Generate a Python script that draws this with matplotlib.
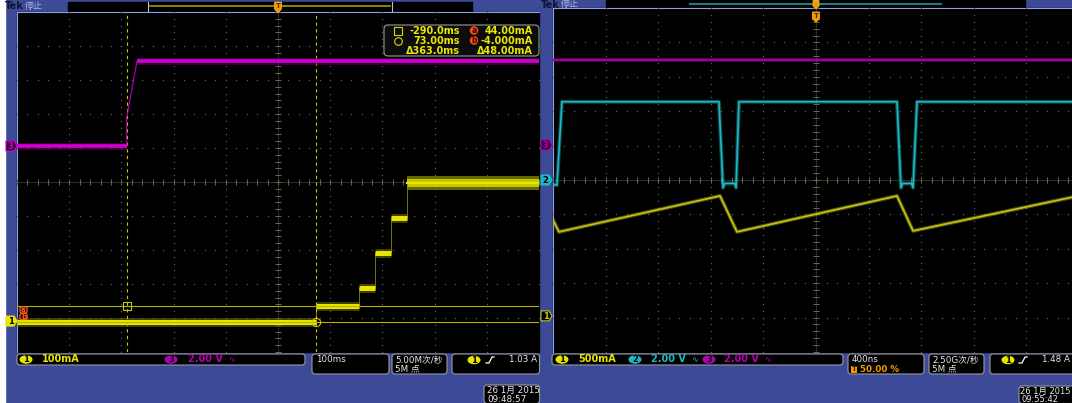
import numpy as np
import matplotlib.pyplot as plt
from matplotlib.patches import Rectangle, FancyBboxPatch, Polygon, Ellipse

plt.rcParams['font.family'] = ['DejaVu Sans', 'Noto Sans CJK SC']

W, H = 1072, 403

# left capture: 100 ms/div, CH1 100 mA/div, CH3 2 V/div
l_ms_span = (-500, 500)
l_ch1_edges_ms = [-500, 73, 155, 186, 216, 247, 500]
l_ch1_levels_ma = [-4, 44, 97, 200, 303, 406]
l_ch1_ripple_ma = 20
l_ch3_ms = [-500, -290, -290, -270, 500]
l_ch3_v = [0.0, 0.0, 1.65, 5.0, 5.0]
l_cursor_ms = [-290.0, 73.0]
l_cursor_ma = [44.0, -4.0]

# right capture: 400 ns/div, CH1 500 mA/div, CH2 / CH3 2 V/div
r_ns_span = (-2000, 2000)
r_ch1_ns = [-2000, -1955, -730, -601, 616, 738, 2000]
r_ch1_ma = [1395, 1221, 1744, 1221, 1744, 1235, 1746]
r_ch2_ns = [-2000, -1970, -1932, -738, -707, -695, -620, -608, -586,
            616, 646, 658, 726, 738, 768, 2000]
r_ch2_v = [-0.25, -0.3, 4.55, 4.55, -0.45, -0.2, -0.2, -0.45, 4.55,
           4.55, -0.45, -0.2, -0.2, -0.45, 4.55, 4.55]
r_ch3_ns = [-2000, 2000]
r_ch3_v = [4.95, 4.95]

BLUE = '#3c4a98'
YEL = '#e6e600'
YEL2 = '#c8c414'
CYAN = '#1cb8c4'
MAG = '#d000d0'
MAG2 = '#b400b4'
ORANGE = '#f09a00'
BORDER = '#9a9a9a'

LEFT_BOX = (17, 12, 539, 352)
RIGHT_BOX = (553, 8, 1079, 352)

fig = plt.figure(figsize=(W / 100, H / 100), dpi=100, facecolor=BLUE)


def pixel_axes():
    a = fig.add_axes([0, 0, 1, 1])
    a.set_xlim(0, W)
    a.set_ylim(H, 0)
    a.axis('off')
    return a


def trace_axes(box, span, per_div, zero_div):
    x0, y0, x1, y1 = box
    a = fig.add_axes([x0 / W, 1 - y1 / H, (x1 - x0) / W, (y1 - y0) / H])
    a.set_xlim(*span)
    a.set_ylim((-5 - zero_div) * per_div, (5 - zero_div) * per_div)
    a.axis('off')
    return a


def graticule(box):
    a = trace_axes(box, (-5, 5), 1, 0)
    fifths = np.linspace(-5, 5, 51)
    for k in range(-4, 5):
        if k == 0:
            continue
        a.plot(np.full(51, k), fifths, ls='none', marker='s', ms=0.9, mew=0, color='#5a5a5a')
        a.plot(fifths, np.full(51, k), ls='none', marker='s', ms=0.9, mew=0, color='#5a5a5a')
    a.axhline(0, color='#2c2c24', lw=0.8)
    a.axvline(0, color='#2c2c24', lw=0.8)
    a.plot(fifths, np.zeros(51), ls='none', marker='|', ms=4, mew=0.7, color='#6a6a58')
    a.plot(np.zeros(51), fifths, ls='none', marker='_', ms=5, mew=0.7, color='#6a6a58')
    return a


def ground_y(box, zero_div):
    y0, y1 = box[1], box[3]
    return y0 + (5 - zero_div) * (y1 - y0) / 10


# ---------------- background, screens, status bars
bg = pixel_axes()
bg.add_patch(Rectangle((0, 0), 5, H, color='white'))
for x0, y0, x1, y1 in (LEFT_BOX, RIGHT_BOX):
    bg.add_patch(Rectangle((x0, y0), x1 - x0, y1 - y0, color='black'))
    bg.plot([x0 - 0.5, x0 - 0.5, x1], [y1, y0 - 0.5, y0 - 0.5], color='#8ea2e0', lw=0.8)

bg.add_patch(Rectangle((68, 2), 404, 9, color='black'))
bg.plot([150, 390], [5.5, 5.5], color='#a89a00', lw=1.2)
bg.plot([148, 148], [2, 11], color='#c0c0c0', lw=0.8)
bg.plot([392, 392], [2, 11], color='#c0c0c0', lw=0.8)
bg.add_patch(Rectangle((606, 0), 419, 8, color='black'))
bg.plot([690, 941], [4, 4], color='#1a7f80', lw=1.5)

for x, y in ((5, 6), (541, 4.5)):
    bg.text(x, y, 'Tek', color='#0c1430', fontsize=7, fontweight='bold', va='center')
    bg.text(x + 20, y, '停止', color='#a8b4e0', fontsize=6.5, va='center')

# ---------------- left screen
graticule(LEFT_BOX)
l_ch1 = trace_axes(LEFT_BOX, l_ms_span, 100, -4.09)
l_ch3 = trace_axes(LEFT_BOX, l_ms_span, 2, 1.06)

# CH3 enable line
l_ch3.plot(l_ch3_ms, l_ch3_v, color=MAG, lw=0.9, alpha=0.8)
for i in range(len(l_ch3_ms) - 1):
    if l_ch3_v[i] == l_ch3_v[i + 1]:
        seg_t = l_ch3_ms[i:i + 2]
        seg_v = l_ch3_v[i:i + 2]
        l_ch3.plot(seg_t, seg_v, color='#600060', lw=5, alpha=0.6, solid_capstyle='butt')
        l_ch3.plot(seg_t, seg_v, color=MAG, lw=2.6, solid_capstyle='butt')

# CH1 current staircase
l_ch1.step(l_ch1_edges_ms[:-1] + [l_ch1_edges_ms[-1]], l_ch1_levels_ma + [l_ch1_levels_ma[-1]],
           where='post', color='#8a8a00', lw=0.6)
for i, lvl in enumerate(l_ch1_levels_ma[:-1]):
    seg_t = l_ch1_edges_ms[i:i + 2]
    l_ch1.plot(seg_t, [lvl, lvl], color='#6a6a00', lw=6.5, alpha=0.6, solid_capstyle='butt')
    l_ch1.plot(seg_t, [lvl, lvl], color=YEL, lw=3.6, solid_capstyle='butt')
last_t = l_ch1_edges_ms[-2:]
last = l_ch1_levels_ma[-1]
l_ch1.fill_between(last_t, last - l_ch1_ripple_ma, last + l_ch1_ripple_ma, color='#8a8a00', alpha=0.75, lw=0)
l_ch1.fill_between(last_t, last - l_ch1_ripple_ma * 0.55, last + l_ch1_ripple_ma * 0.55, color='#c8c800', lw=0)
l_ch1.plot(last_t, [last, last], color=YEL, lw=1.5)

# cursors
for t in l_cursor_ms:
    l_ch1.axvline(t, color='#c8c800', lw=0.8, dashes=(3, 3))
for v in l_cursor_ma:
    l_ch1.axhline(v, color='#b4b400', lw=0.8)
l_ch1.plot(l_cursor_ms[0], l_cursor_ma[0], marker='s', ms=6, mfc='none', mec='#c8c800', mew=0.8)
l_ch1.plot(l_cursor_ms[1], l_cursor_ma[1], marker='o', ms=6, mfc='none', mec='#c8c800', mew=0.8)

# ---------------- right screen
graticule(RIGHT_BOX)
r_ch1 = trace_axes(RIGHT_BOX, r_ns_span, 500, -3.95)
r_ch2 = trace_axes(RIGHT_BOX, r_ns_span, 2, 0.0)
r_ch3 = trace_axes(RIGHT_BOX, r_ns_span, 2, 1.02)

for ax, t, v, col in ((r_ch3, r_ch3_ns, r_ch3_v, MAG2), (r_ch2, r_ch2_ns, r_ch2_v, CYAN),
                      (r_ch1, r_ch1_ns, r_ch1_ma, YEL2)):
    ax.plot(t, v, color=col, lw=2.8, alpha=0.4)
    ax.plot(t, v, color=col, lw=1.2)

# ---------------- overlay: markers, readouts, info boxes
top = pixel_axes()


def ground_marker(x0, y, num, fc, ec, tc):
    top.add_patch(Polygon([(x0, y - 5), (x0 + 8, y - 5), (x0 + 11, y), (x0 + 8, y + 5), (x0, y + 5)],
                          closed=True, fc=fc, ec=ec, lw=0.8))
    top.text(x0 + 4.5, y + 0.3, num, color=tc, fontsize=6, fontweight='bold', ha='center', va='center')


ground_marker(6, ground_y(LEFT_BOX, 1.06), '3', '#3a0030', MAG, MAG)
ground_marker(6, ground_y(LEFT_BOX, -4.09), '1', YEL, YEL, 'black')
ground_marker(541, ground_y(RIGHT_BOX, 1.02), '3', '#3a0030', MAG2, MAG2)
ground_marker(541, ground_y(RIGHT_BOX, 0.0), '2', CYAN, CYAN, 'black')
ground_marker(541, ground_y(RIGHT_BOX, -3.95), '1', 'black', YEL2, YEL2)

for y, s in ((310, 'a'), (316.5, 'b')):
    top.add_patch(FancyBboxPatch((20.5, y - 2.5), 6, 5, boxstyle='round,pad=0.6,rounding_size=2',
                                 fc='#200800', ec='#ff5a1e', lw=0.9))
    top.text(23.5, y + 0.2, s, color='#ff5a1e', fontsize=5, fontweight='bold', ha='center', va='center')

# trigger position markers
top.add_patch(Polygon([(274.5, 2), (281.5, 2), (281.5, 9), (278, 13), (274.5, 9)], fc=ORANGE, ec='#ffc040', lw=0.5))
top.text(278, 6.5, 'T', color='#5a2a00', fontsize=5, fontweight='bold', ha='center', va='center')
top.add_patch(Polygon([(813, 0), (819, 0), (819, 6), (816, 9), (813, 6)], fc=ORANGE, ec='#ffc040', lw=0.5))
top.add_patch(Polygon([(812.5, 12), (819.5, 12), (819.5, 19), (816, 22), (812.5, 19)], fc=ORANGE, ec='#ffc040', lw=0.5))
top.text(816, 16, 'T', color='#5a2a00', fontsize=5, fontweight='bold', ha='center', va='center')

# cursor readout
top.add_patch(FancyBboxPatch((384, 25), 155, 31, boxstyle='round,pad=0,rounding_size=4',
                             fc='#0c0c0c', ec=BORDER, lw=0.8))
rows = [30.5, 40.5, 50.5]
ro = dict(color='#e8e800', fontsize=7, fontweight='bold', va='center', ha='right')
top.plot(398, rows[0], marker='s', ms=5.5, mfc='none', mec='#d8d800', mew=0.8)
top.plot(398, rows[1], marker='o', ms=5.5, mfc='none', mec='#d8d800', mew=0.8)
top.text(460, rows[0], f'{l_cursor_ms[0]:.1f}ms', **ro)
top.text(460, rows[1], f'{l_cursor_ms[1]:.2f}ms', **ro)
top.text(460, rows[2], f'Δ{l_cursor_ms[1] - l_cursor_ms[0]:.1f}ms', **ro)
top.text(533, rows[0], f'{l_cursor_ma[0]:.2f}mA', **ro)
top.text(533, rows[1], f'{l_cursor_ma[1]:.3f}mA', **ro)
top.text(533, rows[2], f'Δ{l_cursor_ma[0] - l_cursor_ma[1]:.2f}mA', **ro)
for y, s in ((rows[0], 'a'), (rows[1], 'b')):
    top.add_patch(Ellipse((474, y), 8.5, 8.5, fc='#ff4a14', ec='none'))
    top.text(474, y + 0.2, s, color='#3a0800', fontsize=5.5, fontweight='bold', ha='center', va='center')


def info_box(x0, y0, x1, y1):
    top.add_patch(FancyBboxPatch((x0, y0), x1 - x0, y1 - y0, boxstyle='round,pad=0,rounding_size=3',
                                 fc='black', ec=BORDER, lw=0.8))


def chan_badge(x, y, num, fc):
    top.add_patch(Ellipse((x, y), 13, 8.5, fc=fc, ec='none'))
    top.text(x, y + 0.3, num, color='black', fontsize=6, fontweight='bold', ha='center', va='center')


def slope_icon(x, y):
    top.plot([x, x + 3, x + 6, x + 8], [y + 3, y + 3, y - 3, y - 3], color='white', lw=0.9)


txt = dict(fontsize=7, fontweight='bold', va='center')
small = dict(fontsize=6.3, va='center', color='#e8e8e8')

# left info row
info_box(17, 354, 305, 365)
chan_badge(26, 359.5, '1', YEL)
top.text(42, 359.5, '100mA', color=YEL, **txt)
chan_badge(171, 359.5, '3', MAG2)
top.text(188, 359.5, '2.00 V', color=MAG2, **txt)
top.text(228, 359.5, '∿', color=MAG2, fontsize=6, va='center')
info_box(312, 354, 389, 374)
top.text(316, 360, '100ms', **small)
info_box(392, 354, 447, 374)
top.text(395, 360, '5.00M次/秒', **small)
top.text(395, 369, '5M 点', **small)
info_box(452, 354, 539.5, 374)
chan_badge(474, 360, '1', YEL)
slope_icon(486, 360)
top.text(537, 360, '1.03 A', ha='right', **small)
info_box(484, 385, 539.5, 403.5)
top.text(487, 390.5, '26 1月 2015', **small)
top.text(487, 399, '09:48:57', **small)

# right info row
info_box(552, 354, 843, 365)
chan_badge(562, 359.5, '1', YEL)
top.text(578, 359.5, '500mA', color=YEL, **txt)
chan_badge(635, 359.5, '2', CYAN)
top.text(651, 359.5, '2.00 V', color=CYAN, **txt)
top.text(691, 359.5, '∿', color=CYAN, fontsize=6, va='center')
chan_badge(709, 359.5, '3', MAG2)
top.text(724, 359.5, '2.00 V', color=MAG2, **txt)
top.text(764, 359.5, '∿', color=MAG2, fontsize=6, va='center')
info_box(848, 354, 924, 374)
top.text(852, 360, '400ns', **small)
top.add_patch(Rectangle((851, 365.5), 6, 7, fc=ORANGE, ec='none'))
top.text(854, 369.2, 'T', color='#4a2000', fontsize=5, fontweight='bold', ha='center', va='center')
top.text(860, 369, '50.00 %', color=ORANGE, fontsize=6.3, fontweight='bold', va='center')
info_box(929, 354, 984, 374)
top.text(932, 360, '2.50G次/秒', **small)
top.text(932, 369, '5M 点', **small)
info_box(990, 354, 1085, 374)
chan_badge(1008, 360, '1', YEL)
slope_icon(1019, 360)
top.text(1070, 360, '1.48 A', ha='right', **small)
info_box(1019, 386, 1085, 403.5)
top.text(1070, 391, '26 1月 2015', ha='right', fontsize=6, va='center', color='#e8e8e8')
top.text(1022, 399, '09:55:42', fontsize=6, va='center', color='#e8e8e8')

fig.savefig('out.png', dpi=100, facecolor=fig.get_facecolor())
